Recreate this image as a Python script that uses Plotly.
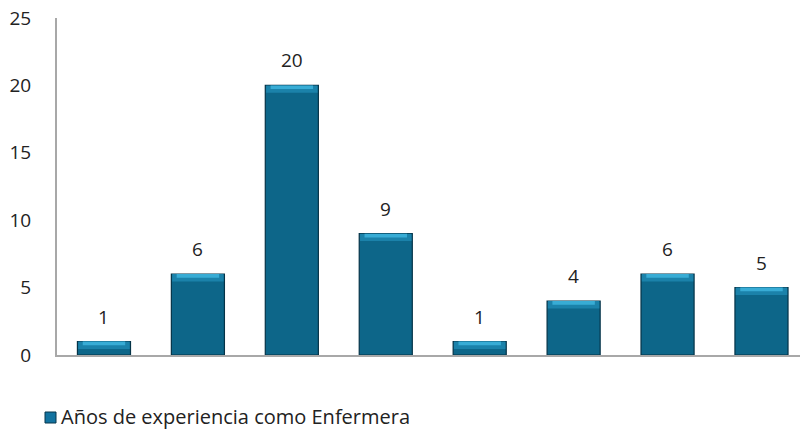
import plotly.graph_objects as go

# Years-of-experience groups (unlabelled on the axis) and nurse counts
categories = ["G1", "G2", "G3", "G4", "G5", "G6", "G7", "G8"]
counts = [1, 6, 20, 9, 1, 4, 6, 5]
series_name = "Años de experiencia como Enfermera"
y_ticks = [0, 5, 10, 15, 20, 25]

W, H = 800, 432
ml, mr, mt, mb = 57, 0, 18, 77
plot_w, plot_h = W - ml - mr, H - mt - mb
font = "'Open Sans', sans-serif"

bar_width = 0.565
cap = 0.55  # lighter bevel at the top of each bar, in data units


def px_x(px):
    """Pixel column -> paper x."""
    return (px - ml) / plot_w


def px_y(py):
    """Pixel row -> paper y."""
    return (H - mb - py) / plot_h


fig = go.Figure()
fig.add_trace(go.Bar(
    x=categories, y=counts, name=series_name, width=bar_width,
    marker=dict(color="#0d6689", line=dict(color="#053347", width=1.2)),
    showlegend=False,
))
# two-step bevel to soften the highlight on top of each bar
fig.add_trace(go.Bar(
    x=categories, y=[cap] * len(counts), base=[c - cap for c in counts],
    width=bar_width * 0.97, marker=dict(color="#1b82aa", line=dict(width=0)),
    showlegend=False, hoverinfo="skip",
))
fig.add_trace(go.Bar(
    x=categories, y=[cap * 0.5] * len(counts), base=[c - cap * 0.5 for c in counts],
    width=bar_width * 0.8, marker=dict(color="#38acd5", line=dict(width=0)),
    showlegend=False, hoverinfo="skip",
))

for cat, v in zip(categories, counts):
    fig.add_annotation(x=cat, y=v, text=str(v), showarrow=False,
                       yshift=25, font=dict(family=font, size=19, color="#222"))

# series key below the plot: small square swatch followed by the series name
fig.add_shape(type="rect", xref="paper", yref="paper",
              x0=px_x(45), x1=px_x(56), y0=px_y(423), y1=px_y(412),
              fillcolor="#1273a0", line=dict(color="#06374c", width=1))
fig.add_annotation(xref="paper", yref="paper", x=px_x(59), y=px_y(417),
                   xanchor="left", yanchor="middle", showarrow=False,
                   text=series_name, font=dict(family=font, size=20, color="#222"))

fig.update_layout(
    width=W, height=H, margin=dict(l=ml, r=mr, t=mt, b=mb),
    paper_bgcolor="white", plot_bgcolor="white", barmode="overlay",
    font=dict(family=font, size=19, color="#222"), showlegend=False,
    xaxis=dict(range=[-0.5, 7.41], showticklabels=False, showgrid=False,
               showline=True, linecolor="#a8a8a8", linewidth=2, ticks="", zeroline=False),
    yaxis=dict(range=[0, 25], tickvals=y_ticks, showgrid=False, showline=True,
               linecolor="#a8a8a8", linewidth=2, ticks="", zeroline=False,
               ticklabelstandoff=20, tickfont=dict(family=font, size=19, color="#222")),
)

fig.write_html("out.html")
